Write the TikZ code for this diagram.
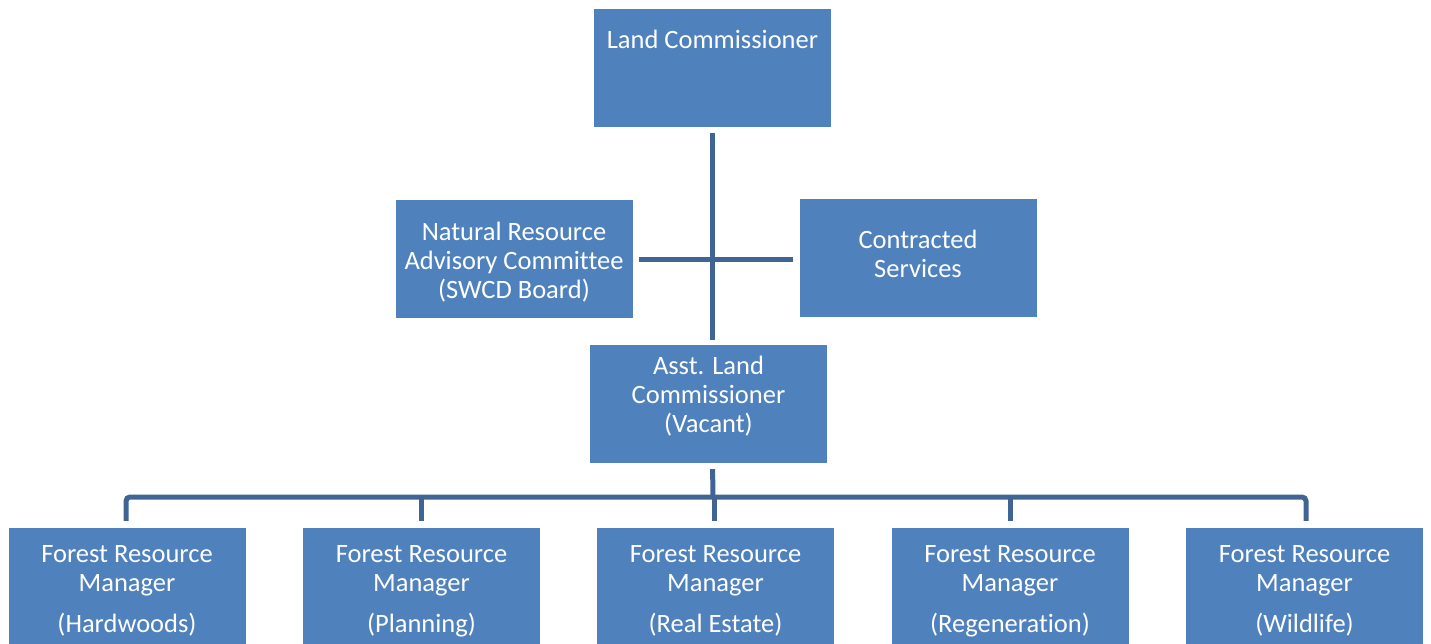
\documentclass[tikz,border=0pt]{standalone}
\usepackage{fontspec}
\setmainfont{Carlito}[Ligatures=NoCommon]
\definecolor{boxblue}{RGB}{79,129,189}
\definecolor{lineblue}{RGB}{64,101,148}
\begin{document}
\begin{tikzpicture}[x=1pt,y=-1pt]
        \tikzstyle{office}=[rectangle,fill=boxblue,text=white,minimum width=237pt,minimum height=118pt,
                            inner sep=0pt,align=center,font=\fontsize{26.5}{29}\selectfont]
        \tikzstyle{edge}=[draw=lineblue,line width=5pt]
        \useasboundingbox (0,0) rectangle (1431,643);
        \clip (0,0) rectangle (1431,643);
       \begin{scope}
         \node [office,align=none,text height=39pt,text depth=79pt] (land) at (712.5,68) {Land Commissioner};
         \node [office] (nrac) at (514,259) {\rule{0pt}{24pt}Natural Resource\\Advisory Committee\\(SWCD Board)};
         \node [office] (contract) at (918,258) {Contracted\\Services\rule[-8pt]{0pt}{0pt}};
         \node [office] (asst) at (708.5,404) {Asst. Land\\Commissioner\\(Vacant)\rule[-20pt]{0pt}{0pt}};

         \node [office,minimum height=126pt] (frm1) at (127,591) {Forest Resource\\Manager\\[12pt](Hardwoods)};
         \node [office,minimum height=126pt] (frm2) at (421.5,591) {Forest Resource\\Manager\\[12pt](Planning)};
         \node [office,minimum height=126pt] (frm3) at (715.5,591) {Forest Resource\\Manager\\[12pt](Real Estate)};
         \node [office,minimum height=126pt] (frm4) at (1010,591) {Forest Resource\\Manager\\[12pt](Regeneration)};
         \node [office,minimum height=126pt] (frm5) at (1304.5,591) {Forest Resource\\Manager\\[12pt](Wildlife)};

         \coordinate (bus) at (713,497);

         % main line and side offices
         \path[edge,shorten <=6pt,shorten >=5pt] (land.south) -- (land.south |- asst.north);
         \path[edge,shorten <=6pt,shorten >=6pt] (nrac.east) -- (nrac.east -| contract.west);

         % down to the managers
         \path[edge,shorten <=6pt] (land.south |- asst.south) -- (bus);
         \path[edge,rounded corners=4pt,shorten <=7pt,shorten >=7pt] (frm1.north -| 126,0) -- (126,497) -- (1306,497) -- (frm5.north -| 1306,0);
         \path[edge,shorten >=7pt] (421,497) -- (frm2.north -| 421,0);
         \path[edge,shorten >=7pt] (714,497) -- (frm3.north -| 714,0);
         \path[edge,shorten >=7pt] (1010,497) -- (frm4.north);
        \end{scope}
      \end{tikzpicture}
\end{document}
